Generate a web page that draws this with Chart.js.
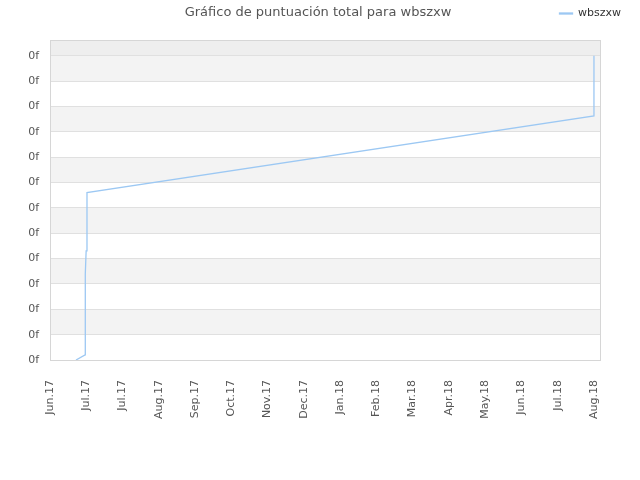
<!DOCTYPE html>
<html>
<head>
<meta charset="utf-8">
<script src="https://cdn.jsdelivr.net/npm/chart.js@4"></script>
<style>
  body { margin: 0; background: #fff; }
  canvas { display: block; }
</style>
</head>
<body>
<canvas id="chart" width="640" height="480"></canvas>
<script>
// values
const chartTitle = 'Gráfico de puntuación total para wbszxw';
const seriesName = 'wbszxw';
// x = days since 1 Jun 2017
const days   = [21.5, 29.0, 29.2, 29.9, 30.6, 450, 450];
const scores = [0, 0.2, 3.4, 4.3, 6.6, 9.63, 12.0];
const xTickLabels = ['Jun.17', 'Jul.17', 'Jul.17', 'Aug.17', 'Sep.17', 'Oct.17', 'Nov.17', 'Dec.17',
                     'Jan.18', 'Feb.18', 'Mar.18', 'Apr.18', 'May.18', 'Jun.18', 'Jul.18', 'Aug.18'];
const yTickLabels = ['0f', '0f', '0f', '0f', '0f', '0f', '0f', '0f', '0f', '0f', '0f', '0f', '0f'];

const FONT = 'DejaVu Sans';
const lineColor = '#9cc8f3';

// striped background + frame of the plot area
const bands = {
  id: 'bands',
  beforeDraw(chart) {
    const { ctx, chartArea: a, scales: { y } } = chart;
    ctx.save();
    ctx.fillStyle = '#fff';
    ctx.fillRect(0, 0, chart.width, chart.height);
    const ticks = y.ticks;
    for (let i = 0; i < ticks.length; i++) {
      const lo = y.getPixelForValue(ticks[i].value);
      const hi = i + 1 < ticks.length ? y.getPixelForValue(ticks[i + 1].value) : a.top;
      if (i === ticks.length - 1) ctx.fillStyle = '#eeeeee';
      else if (i % 2 === 1) ctx.fillStyle = '#f3f3f3';
      else continue;
      ctx.fillRect(a.left, hi, a.right - a.left, lo - hi);
    }
    ctx.restore();
  },
  beforeDatasetsDraw(chart) {
    const { ctx, chartArea: a } = chart;
    ctx.save();
    ctx.strokeStyle = '#d6d6d6';
    ctx.lineWidth = 1;
    ctx.strokeRect(a.left + 0.5, a.top + 0.5, a.right - a.left, a.bottom - a.top);
    ctx.restore();
  }
};

const titleText = {
  id: 'titleText',
  afterDraw(chart) {
    const ctx = chart.ctx;
    ctx.save();
    ctx.font = '13px "' + FONT + '"';
    ctx.fillStyle = '#555';
    ctx.textAlign = 'center';
    ctx.textBaseline = 'middle';
    ctx.fillText(chartTitle, 318, 13);
    ctx.restore();
  }
};

new Chart(document.getElementById('chart'), {
  type: 'line',
  data: {
    datasets: [{
      label: seriesName,
      data: days.map((d, i) => ({ x: d, y: scores[i] })),
      borderColor: lineColor,
      backgroundColor: lineColor,
      borderWidth: 1.3,
      pointRadius: 0,
      tension: 0,
      fill: false
    }]
  },
  options: {
    responsive: false,
    animation: false,
    layout: { padding: { top: 0, left: 0, bottom: 0, right: 11 } },
    plugins: {
      title: { display: false },
      tooltip: { enabled: false },
      legend: {
        position: 'top',
        align: 'end',
        labels: {
          font: { family: FONT, size: 11 },
          color: '#333',
          boxWidth: 13,
          boxHeight: 1,
          padding: 8
        }
      }
    },
    scales: {
      x: {
        type: 'linear',
        min: 0,
        max: 455,
        grid: { display: false },
        border: { display: false },
        ticks: {
          stepSize: 30,
          includeBounds: false,
          autoSkip: false,
          minRotation: 90,
          maxRotation: 90,
          padding: 12,
          color: '#555',
          font: { family: FONT, size: 11 },
          callback: (v, i) => xTickLabels[i]
        },
        afterFit: s => { s.height = 120; }
      },
      y: {
        min: 0,
        max: 12.62,
        grid: { color: '#e0e0e0', drawTicks: false },
        border: { display: false },
        ticks: {
          stepSize: 1,
          includeBounds: false,
          padding: 11,
          color: '#555',
          font: { family: FONT, size: 11 },
          callback: (v, i) => yTickLabels[i]
        },
        afterFit: s => { s.width = 50; }
      },
      x2: {
        type: 'linear',
        position: 'top',
        grid: { display: false },
        border: { display: false },
        ticks: { display: false },
        afterFit: s => { s.height = Math.max(0, 40 - s.chart.legend.height); }
      },
      y2: {
        type: 'linear',
        position: 'right',
        grid: { display: false },
        border: { display: false },
        ticks: { display: false },
        afterFit: s => { s.width = 29; }
      }
    }
  },
  plugins: [bands, titleText]
});
</script>
</body>
</html>
